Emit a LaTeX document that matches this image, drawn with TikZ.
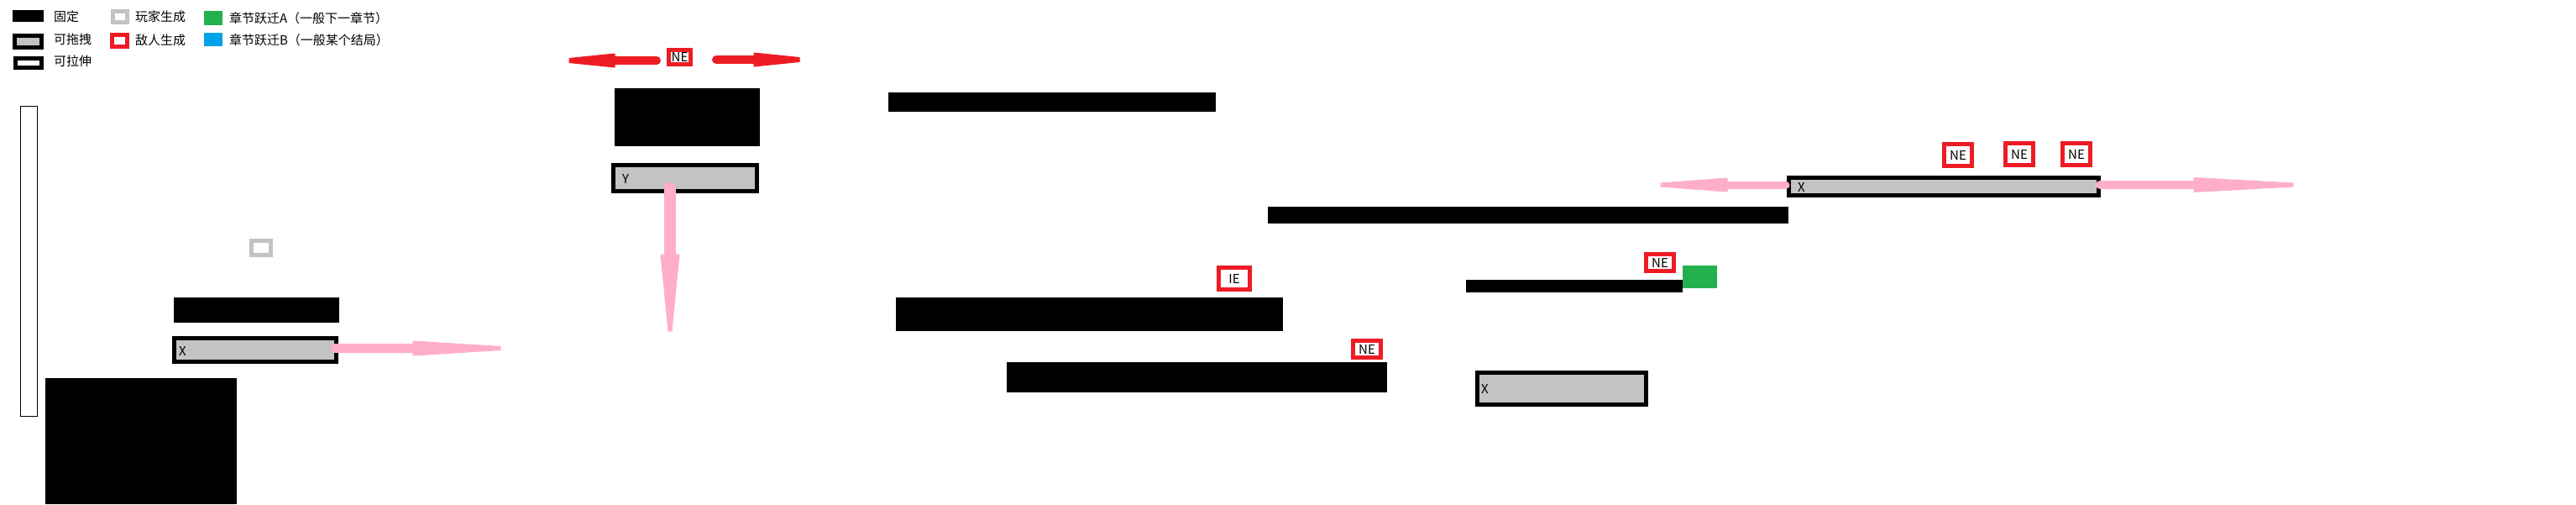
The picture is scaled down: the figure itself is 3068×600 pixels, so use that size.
\documentclass[tikz,border=0pt]{standalone}
\usepackage{fontspec}
\setmainfont{Noto Sans CJK SC}
\usetikzlibrary{calc}
\definecolor{pgray}{RGB}{195,195,195}
\definecolor{pred}{RGB}{237,28,36}
\definecolor{pgreen}{RGB}{34,177,76}
\definecolor{pblue}{RGB}{0,162,232}
\definecolor{ppink}{RGB}{255,174,201}
\tikzset{
  every node/.style={inner sep=0pt, outer sep=0pt},
  txt/.style={font=\fontsize{15}{18}\selectfont, anchor=west},
  fixedbox/.style={rectangle, fill=black},
  dragbox/.style={rectangle, draw=black, line width=5pt, fill=pgray},
  stretchbox/.style={rectangle, draw=black, line width=5pt, fill=white},
  thinstretch/.style={rectangle, draw=black, line width=1.3pt, fill=white},
  playerbox/.style={rectangle, draw=pgray, line width=5pt, fill=white},
  enemybox/.style={rectangle, draw=pred, line width=5pt, fill=white, font=\fontsize{15}{18}\selectfont},
  jumpA/.style={rectangle, fill=pgreen},
  jumpB/.style={rectangle, fill=pblue},
  sz/.style 2 args={minimum width=#1pt, minimum height=#2pt},
  pinkshaft/.style={draw=ppink, line width=#1pt, line cap=round},
  pinkhead/.style={fill=ppink, draw=ppink, line width=1pt, line join=round},
  redshaft/.style={draw=pred, line width=#1pt, line cap=round},
  redhead/.style={fill=pred, draw=pred, line width=1pt, line join=round},
}
\begin{document}
\begin{tikzpicture}[x=1pt, y=-1pt]
\useasboundingbox (0,0) rectangle (3068,600);
\fill[white] (0,0) rectangle (3068,600);

% ---------- legend ----------
\node[fixedbox, sz={37}{14}] (lfix) at (33.5,19) {};
\node[dragbox, sz={32}{14}] (ldrag) at (33.5,49.5) {};
\node[stretchbox, sz={31}{11}] (lstretch) at (34,75) {};
\node[txt] (tfix) at (64,20) {固定};
\node[txt] (tdrag) at (64,47) {可拖拽};
\node[txt] (tstretch) at (64,73) {可拉伸};
\node[playerbox, sz={17}{13}] (lplayer) at (143,20) {};
\node[enemybox, sz={18}{14}] (lenemy) at (142.5,48.5) {};
\node[txt] (tplayer) at (161,20) {玩家生成};
\node[txt] (tenemy) at (161,48) {敌人生成};
\node[jumpA, sz={22}{17}] (ljA) at (254,21.5) {};
\node[jumpB, sz={22}{16}] (ljB) at (254,47) {};
\node[txt] (tjA) at (273,22) {章节跃迁A（一般下一章节）};
\node[txt] (tjB) at (273,48) {章节跃迁B（一般某个结局）};

% ---------- level ----------
\node[thinstretch, sz={20}{369}] (stretch1) at (34.5,311) {};
\node[playerbox, sz={23}{17}] (spawn) at (311,295) {};
\node[fixedbox, sz={197}{30}] (bar1) at (305.5,369) {};
\node[dragbox, sz={193}{28}] (xbox1) at (304,416.5) {};
\node[txt] (xl1) at (213,418) {X};
\node[fixedbox, sz={228}{150}] (block1) at (168,525) {};

\node[fixedbox, sz={173}{69}] (block2) at (818.5,139.5) {};
\node[dragbox, sz={171}{31}] (ybox) at (816,212) {};
\node[txt] (yl) at (741,213) {Y};
\node[enemybox, sz={26}{17}] (ne0) at (809.5,67.5) {NE};

\node[fixedbox, sz={390}{23}] (bar2) at (1253,121.5) {};
\node[fixedbox, sz={620}{20}] (bar3) at (1820,256) {};
\node[enemybox, sz={37}{26}] (ie1) at (1470,331.5) {IE};
\node[fixedbox, sz={461}{40}] (bar4) at (1297.5,374) {};
\node[enemybox, sz={33}{20}] (ne1) at (1628,415.5) {NE};
\node[fixedbox, sz={453}{36}] (bar5) at (1425.5,449) {};

\node[enemybox, sz={33}{20}] (ne2) at (1977,312.5) {NE};
\node[jumpA, sz={41}{27}] (jA) at (2024.5,329.5) {};
\node[fixedbox, sz={258}{15}] (bar6) at (1875,340.5) {};
\node[dragbox, sz={201}{38}] (xbox2) at (1860,462.5) {};
\node[txt] (xl2) at (1764,463) {X};

\node[dragbox, sz={369}{21}] (xbox3) at (2315,222) {};
\node[txt] (xl3) at (2141,223) {X};
\node[enemybox, sz={33}{26}] (ne3) at (2332,184.5) {NE};
\node[enemybox, sz={33}{26}] (ne4) at (2405,183.5) {NE};
\node[enemybox, sz={33}{26}] (ne5) at (2473,183.5) {NE};

% ---------- movement arrows ----------
% A1: xbox1 -> right
\coordinate (a1s) at (399,414.5);
\coordinate (a1e) at (597,414.5);
\draw[pinkshaft=11] (a1s) -- ($(a1e)+(-103,0)$);
\filldraw[pinkhead] ($(a1e)+(-105,-8.5)$) -- ($(a1e)+(-1,-2)$) -- ($(a1e)+(-1,2)$) -- ($(a1e)+(-105,8.5)$) -- cycle;
% A2: ybox -> down
\coordinate (a2s) at (798,224);
\coordinate (a2e) at (798,395);
\draw[pinkshaft=14] (a2s) -- ($(a2e)+(0,-90)$);
\filldraw[pinkhead] ($(a2e)+(-11,-92)$) -- ($(a2e)+(-2,-1)$) -- ($(a2e)+(2,-1)$) -- ($(a2e)+(11,-92)$) -- cycle;
% A3: xbox3 -> left
\coordinate (a3s) at (2127,220);
\coordinate (a3e) at (1977,220);
\draw[pinkshaft=9] (a3s) -- ($(a3e)+(78,0)$);
\filldraw[pinkhead] ($(a3e)+(80,-8)$) -- ($(a3e)+(1,-2)$) -- ($(a3e)+(1,2)$) -- ($(a3e)+(80,8)$) -- cycle;
% A4: xbox3 -> right
\coordinate (a4s) at (2501,220);
\coordinate (a4e) at (2732,220);
\draw[pinkshaft=10] (a4s) -- ($(a4e)+(-117,0)$);
\filldraw[pinkhead] ($(a4e)+(-119,-8.5)$) -- ($(a4e)+(-1,-2)$) -- ($(a4e)+(-1,2)$) -- ($(a4e)+(-119,8.5)$) -- cycle;
% R1: NE -> left
\coordinate (r1s) at (782,72);
\coordinate (r1e) at (677,72);
\draw[redshaft=10] (r1s) -- ($(r1e)+(53,0)$);
\filldraw[redhead] ($(r1e)+(55,-8)$) -- ($(r1e)+(1,-2.5)$) -- ($(r1e)+(1,2.5)$) -- ($(r1e)+(55,8)$) -- cycle;
% R2: NE -> right
\coordinate (r2s) at (853,71);
\coordinate (r2e) at (953,71);
\draw[redshaft=10] (r2s) -- ($(r2e)+(-53,0)$);
\filldraw[redhead] ($(r2e)+(-55,-8)$) -- ($(r2e)+(-1,-2.5)$) -- ($(r2e)+(-1,2.5)$) -- ($(r2e)+(-55,8)$) -- cycle;
\end{tikzpicture}
\end{document}
